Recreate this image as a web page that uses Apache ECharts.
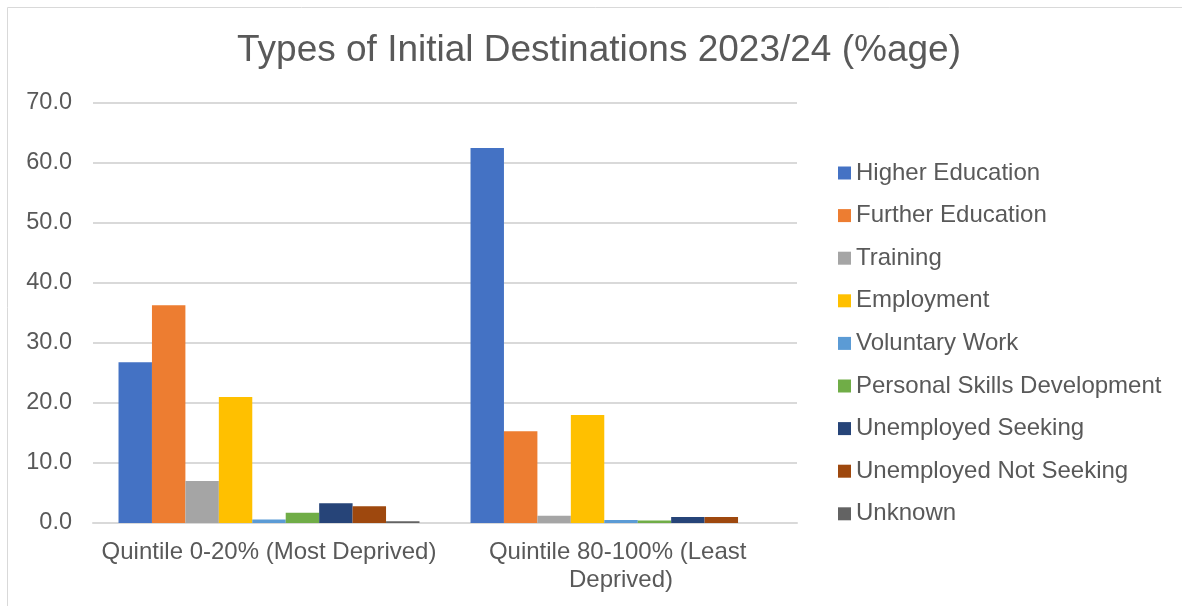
<!DOCTYPE html>
<html>
<head>
<meta charset="utf-8">
<script src="https://cdn.jsdelivr.net/npm/echarts@6/dist/echarts.min.js"></script>
<style>
  html, body { margin: 0; padding: 0; background: #ffffff; }
  #chart { width: 1182px; height: 606px; }
</style>
</head>
<body>
<div id="chart"></div>
<script>
// Categories (deprivation quintiles) on the x axis
const categories = ['Quintile 0-20% (Most Deprived)', 'Quintile 80-100% (Least Deprived)'];

// Destination types, one series each
const seriesNames = [
  'Higher Education', 'Further Education', 'Training', 'Employment',
  'Voluntary Work', 'Personal Skills Development', 'Unemployed Seeking',
  'Unemployed Not Seeking', 'Unknown'
];

// Percentages per destination: [most deprived, least deprived]
const higherEducation = [26.8, 62.5];
const furtherEducation = [36.3, 15.3];
const training = [7.0, 1.2];
const employment = [21.0, 18.0];
const voluntaryWork = [0.6, 0.5];
const personalSkills = [1.7, 0.4];
const unemployedSeeking = [3.3, 1.0];
const unemployedNotSeeking = [2.8, 1.0];
const unknown = [0.3, 0.0];

const seriesValues = [
  higherEducation, furtherEducation, training, employment, voluntaryWork,
  personalSkills, unemployedSeeking, unemployedNotSeeking, unknown
];

const palette = ['#4472C4', '#ED7D31', '#A5A5A5', '#FFC000', '#5B9BD5',
                 '#70AD47', '#264478', '#9E480E', '#636363'];

const font = '"Liberation Sans", Arial, sans-serif';
const textColor = '#595959';

const chart = echarts.init(document.getElementById('chart'));

chart.setOption({
  animation: false,
  color: palette,
  textStyle: { fontFamily: font },
  title: {
    text: 'Types of Initial Destinations 2023/24 (%age)',
    left: 599,
    textAlign: 'center',
    top: 32,
    padding: 0,
    textStyle: { fontFamily: font, fontSize: 37, fontWeight: 'normal', color: textColor }
  },
  graphic: [{
    type: 'rect',
    shape: { x: 7.5, y: 7.5, width: 1200, height: 620 },
    style: { fill: 'none', stroke: '#d9d9d9', lineWidth: 1 },
    silent: true
  }],
  legend: {
    orient: 'vertical',
    left: 838,
    top: 161,
    padding: 0,
    itemWidth: 13,
    itemHeight: 13,
    itemGap: 18.6,
    icon: 'rect',
    data: seriesNames,
    textStyle: { fontFamily: font, fontSize: 24, color: textColor, lineHeight: 24 }
  },
  grid: { left: 93, right: 385, top: 103, bottom: 83, containLabel: false },
  xAxis: {
    type: 'category',
    data: categories,
    axisLine: { lineStyle: { color: '#d9d9d9', width: 2 } },
    axisTick: { show: false },
    axisLabel: {
      fontFamily: font, fontSize: 24, color: textColor,
      margin: 15, lineHeight: 28, width: 345, overflow: 'break', interval: 0
    }
  },
  yAxis: {
    type: 'value',
    min: 0, max: 70, interval: 10,
    axisLine: { show: false },
    axisTick: { show: false },
    splitLine: { lineStyle: { color: '#d9d9d9', width: 2 } },
    axisLabel: {
      fontFamily: font, fontSize: 23.5, color: textColor, margin: 21,
      verticalAlign: 'middle', padding: [6, 0, 0, 0],
      formatter: v => v.toFixed(1)
    }
  },
  series: seriesNames.map((name, i) => ({
    name: name,
    type: 'bar',
    data: seriesValues[i],
    barGap: '0%',
    barCategoryGap: '14.5%',
    itemStyle: { color: palette[i] }
  }))
});
</script>
</body>
</html>
